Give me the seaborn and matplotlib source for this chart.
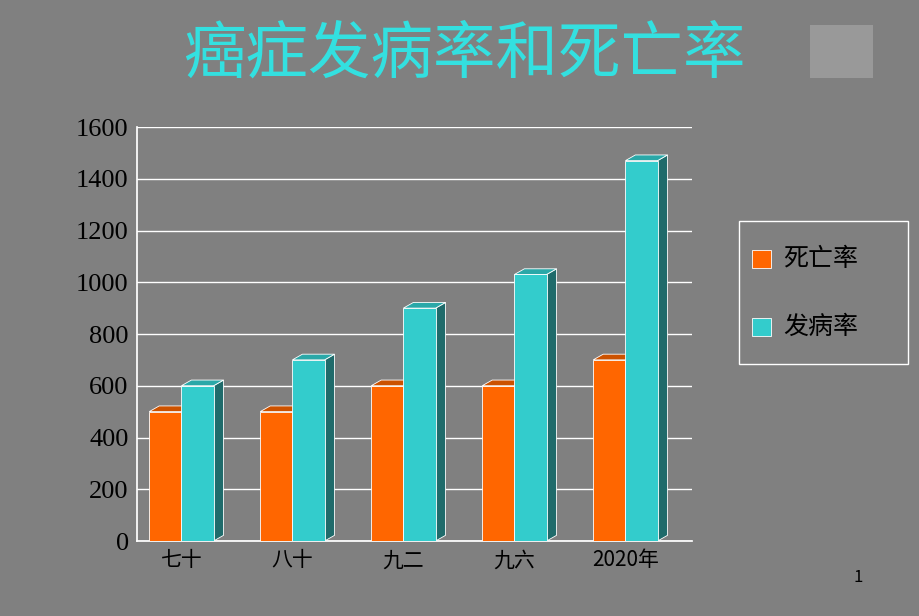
import matplotlib
matplotlib.use("Agg")
import matplotlib.pyplot as plt
import seaborn as sns
import pandas as pd
from matplotlib.patches import Polygon, Rectangle

categories = ["七十", "八十", "九二", "九六", "2020年"]
death = [500, 500, 600, 600, 700]
incidence = [600, 700, 900, 1030, 1470]
series_names = ["死亡率", "发病率"]
colors = ["#FF6600", "#33CCCC"]
side_colors = ["#993300", "#1F6B6B"]
top_colors = ["#CC5200", "#2AA8A8"]

sns.set_theme(style="white")
plt.rcParams['font.family'] = ['Noto Sans CJK SC', 'DejaVu Sans']

df = pd.DataFrame({
    "cat": categories * 2,
    "val": death + incidence,
    "ser": [series_names[0]] * 5 + [series_names[1]] * 5,
})

fig = plt.figure(figsize=(9.2, 6.16), dpi=100)
fig.patch.set_facecolor("#808080")
ax = fig.add_axes([137/920, 1-541/616, (692-137)/920, (541-127)/616])
ax.set_facecolor("#808080")

sns.barplot(data=df, x="cat", y="val", hue="ser", palette=colors, ax=ax, saturation=1,
            width=0.58, gap=0.0, edgecolor="white", linewidth=0.6, legend=False, zorder=3)
ax.set_ylim(0, 1600)
ax.set_xlim(-0.4, 4.6)
ax.set_yticks(range(0, 1601, 200))
ax.yaxis.grid(True, color="white", linewidth=1)
ax.set_axisbelow(True)
for s in ["top", "right"]:
    ax.spines[s].set_visible(False)
for s in ["left", "bottom"]:
    ax.spines[s].set_color("white")
ax.set_xlabel(""); ax.set_ylabel("")
ax.tick_params(axis="both", colors="black", length=0, labelsize=15, pad=6)
for lab in ax.get_yticklabels():
    lab.set_family(["Liberation Serif"]); lab.set_fontsize(19)
for lab in ax.get_xticklabels():
    lab.set_family(["Noto Sans CJK SC", "DejaVu Sans"]); lab.set_fontsize(15)

dx, dy = 0.09, 22
bars = [p for p in ax.patches if isinstance(p, Rectangle) and p.get_height() > 0]
for i, p in enumerate(bars):
    si = 0 if i < 5 else 1
    x0, w, h = p.get_x(), p.get_width(), p.get_height()
    side = Polygon([(x0+w, 0), (x0+w+dx, dy), (x0+w+dx, h+dy), (x0+w, h)],
                   closed=True, facecolor=side_colors[si], edgecolor="white", lw=0.6, zorder=2.9)
    top = Polygon([(x0, h), (x0+dx, h+dy), (x0+w+dx, h+dy), (x0+w, h)],
                  closed=True, facecolor=top_colors[si], edgecolor="white", lw=0.6, zorder=2.9)
    ax.add_patch(side); ax.add_patch(top)

fig.text(0.505, 1-55/616, "癌症发病率和死亡率", color="#33E0E0", fontsize=45,
         ha="center", va="center")
fig.patches.append(Rectangle((810/920, 1-78/616), 63/920, 53/616,
                             transform=fig.transFigure, facecolor="#999999", edgecolor="none"))
fig.patches.append(Rectangle((739/920, 1-364/616), 169/920, 143/616,
                             transform=fig.transFigure, facecolor="none", edgecolor="white", lw=1))
for k, yy in enumerate([259, 327]):
    fig.patches.append(Rectangle((752/920, 1-(yy+9)/616), 19/920, 18/616,
                                 transform=fig.transFigure, facecolor=colors[k],
                                 edgecolor="white", lw=0.6))
    fig.text(783/920, 1-yy/616, series_names[k], fontsize=18, color="black", va="center")
fig.text(858/920, 1-578/616, "1", fontsize=12, color="black", ha="center", va="center")

fig.savefig("out.png", dpi=100, facecolor=fig.get_facecolor())
